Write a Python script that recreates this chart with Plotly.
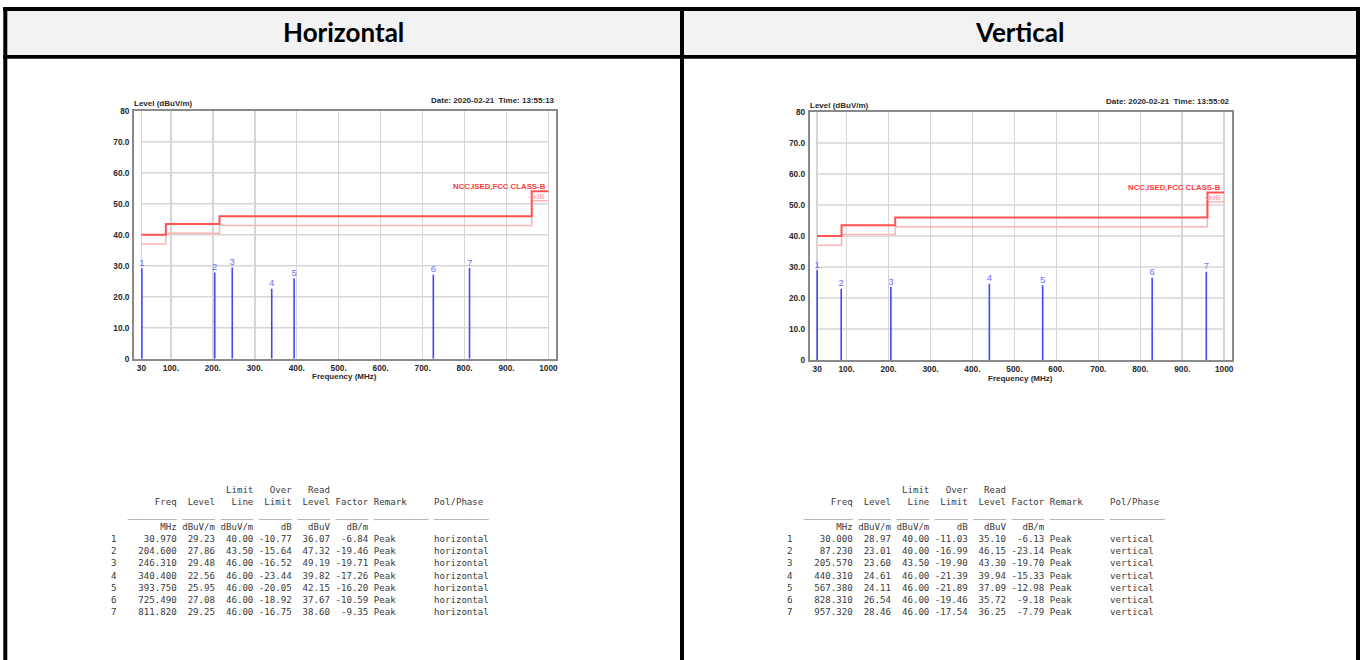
import plotly.graph_objects as go

W, H = 1360, 660

# ---------------- data ----------------
TICK_FREQ = [30, 100, 200, 300, 400, 500, 600, 700, 800, 900, 1000]
TICK_FREQ_TEXT = ["30", "100.", "200.", "300.", "400.", "500.", "600.", "700.", "800.", "900.", "1000"]
TICK_LEVEL = [0, 10, 20, 30, 40, 50, 60, 70, 80]
TICK_LEVEL_TEXT = ["0", "10.0", "20.0", "30.0", "40.0", "50.0", "60.0", "70.0", "80"]

LIMIT_FREQ = [30, 88, 216, 960, 1000]
LIMIT_LEVEL = [40.0, 43.5, 46.0, 54.0, 54.0]
MARGIN_LEVEL = [37.0, 40.5, 43.0, 51.0, 51.0]
LIMIT_NAME = "NCC,ISED,FCC CLASS-B"
MARGIN_NAME = "-3dB"

PANEL_TITLES = ["Horizontal", "Vertical"]
DATES = ["Date: 2020-02-21  Time: 13:55:13", "Date: 2020-02-21  Time: 13:55:02"]

H_INDEX = [1, 2, 3, 4, 5, 6, 7]
H_FREQ = [30.970, 204.600, 246.310, 340.400, 393.750, 725.490, 811.820]
H_LEVEL = [29.23, 27.86, 29.48, 22.56, 25.95, 27.08, 29.25]
H_LIMIT = [40.00, 43.50, 46.00, 46.00, 46.00, 46.00, 46.00]
H_OVER = [-10.77, -15.64, -16.52, -23.44, -20.05, -18.92, -16.75]
H_READ = [36.07, 47.32, 49.19, 39.82, 42.15, 37.67, 38.60]
H_FACTOR = [-6.84, -19.46, -19.71, -17.26, -16.20, -10.59, -9.35]
H_REMARK = ["Peak"] * 7
H_POL = ["horizontal"] * 7

V_INDEX = [1, 2, 3, 4, 5, 6, 7]
V_FREQ = [30.000, 87.230, 205.570, 440.310, 567.380, 828.310, 957.320]
V_LEVEL = [28.97, 23.01, 23.60, 24.61, 24.11, 26.54, 28.46]
V_LIMIT = [40.00, 40.00, 43.50, 46.00, 46.00, 46.00, 46.00]
V_OVER = [-11.03, -16.99, -19.90, -21.39, -21.89, -19.46, -17.54]
V_READ = [35.10, 46.15, 43.30, 39.94, 37.09, 35.72, 36.25]
V_FACTOR = [-6.13, -23.14, -19.70, -15.33, -12.98, -9.18, -7.79]
V_REMARK = ["Peak"] * 7
V_POL = ["vertical"] * 7

# ---------------- helpers ----------------
def px(x):
    return x / W


def py(y):
    return 1 - y / H


SANS = "Liberation Sans"
MONO = "DejaVu Sans Mono"
RED = "#ff5252"
PINK = "#ffb3b3"
BLUE = "#4545ff"
BLUE_TXT = "#6e6eff"
GRID = "#d6d6d6"
FRAME = "#8a8a8a"
TXT = "#2a2a2a"

fig = go.Figure()
annotations = []
shapes = []

panels = [
    dict(dx=0.0, dy=0.0, idx=H_INDEX, freq=H_FREQ, level=H_LEVEL, limit=H_LIMIT, over=H_OVER,
         read=H_READ, factor=H_FACTOR, remark=H_REMARK, pol=H_POL),
    dict(dx=676.7, dy=1.3, idx=V_INDEX, freq=V_FREQ, level=V_LEVEL, limit=V_LIMIT, over=V_OVER,
         read=V_READ, factor=V_FACTOR, remark=V_REMARK, pol=V_POL),
]

PLOT_L, PLOT_R, PLOT_T, PLOT_B = 134.3, 556.7, 107.3, 359.3


def ann(text, x, y, xanchor, size=8, color=TXT, weight="bold", family=SANS):
    annotations.append(dict(text=text, x=px(x), y=py(y), xref="paper", yref="paper", xanchor=xanchor,
                            yanchor="middle", showarrow=False, borderpad=0,
                            font=dict(family=family, size=size, color=color, weight=weight)))


for p_i, p in enumerate(panels):
    dx, dy = p["dx"], p["dy"]
    sfx = "" if p_i == 0 else str(p_i + 1)
    xa, ya = "x" + sfx, "y" + sfx

    # limit lines
    fig.add_trace(go.Scatter(x=LIMIT_FREQ, y=MARGIN_LEVEL, mode="lines", line=dict(color=PINK, width=1.5, shape="hv"),
                             xaxis=xa, yaxis=ya, hoverinfo="skip", showlegend=False))
    fig.add_trace(go.Scatter(x=LIMIT_FREQ, y=LIMIT_LEVEL, mode="lines", line=dict(color=RED, width=2, shape="hv"),
                             xaxis=xa, yaxis=ya, hoverinfo="skip", showlegend=False))
    # marker lines
    mx, my = [], []
    for f, l in zip(p["freq"], p["level"]):
        mx += [f, f, None]
        my += [0, l, None]
    fig.add_trace(go.Scatter(x=mx, y=my, mode="lines", line=dict(color=BLUE, width=1.6),
                             xaxis=xa, yaxis=ya, hoverinfo="skip", showlegend=False))
    fig.add_trace(go.Scatter(x=p["freq"], y=p["level"], mode="text", text=[str(i) for i in p["idx"]],
                             textposition="top center", textfont=dict(family=SANS, size=9.5, color=BLUE_TXT),
                             xaxis=xa, yaxis=ya, hoverinfo="skip", showlegend=False, cliponaxis=False))

    # horizontal gridlines (between first and last frequency tick)
    for lv in TICK_LEVEL[1:-1]:
        shapes.append(dict(type="line", xref=xa, yref=ya, x0=TICK_FREQ[0], x1=TICK_FREQ[-1], y0=lv, y1=lv,
                           line=dict(color=GRID, width=1.5), layer="below"))

    axis_common = dict(showline=True, linecolor=FRAME, linewidth=2, mirror=True, zeroline=False, ticks="",
                       fixedrange=True, tickfont=dict(family=SANS, size=8.3, color=TXT, weight="bold"))
    fig.update_layout(**{
        "xaxis" + sfx: dict(domain=[px(PLOT_L + dx), px(PLOT_R + dx)], range=[12.4, 1017.6], anchor=ya,
                            tickmode="array", tickvals=TICK_FREQ, ticktext=TICK_FREQ_TEXT,
                            showgrid=True, gridcolor=GRID, gridwidth=1.5, ticklabelstandoff=0, **axis_common),
        "yaxis" + sfx: dict(domain=[py(PLOT_B + dy), py(PLOT_T + dy)], range=[0, 80], anchor=xa,
                            tickmode="array", tickvals=TICK_LEVEL, ticktext=TICK_LEVEL_TEXT,
                            showgrid=False, ticklabelstandoff=1, **axis_common),
    })

    ann("Level (dBuV/m)", 133.5 + dx, 100.5 + dy, "left")
    ann(DATES[p_i], 556.5 + dx, 97.0 + dy, "right")
    ann("Frequency (MHz)", 345.5 + dx, 377.5 + dy, "center")
    ann(LIMIT_NAME, 547.5 + dx, 184.0 + dy, "right", size=7.8, color="#ff3b3b")
    ann(MARGIN_NAME, 547.0 + dx, 194.3 + dy, "right", size=8, color="#ff9c9c", weight="normal")

    # ---- text table ----
    lines = []
    lines.append(f"{'':1}{'':11}{'':7}{'Limit':>7}{'Over':>7}{'Read':>7}")
    lines.append(f"{'':1}{'Freq':>11}{'Level':>7}{'Line':>7}{'Limit':>7}{'Level':>7}{'Factor':>7} {'Remark':<10} {'Pol/Phase'}")
    lines.append("   " + "_" * 9 + " " + "_" * 6 + " " + "_" * 6 + " " + "_" * 6 + " " + "_" * 6 + " " + "_" * 6
                 + " " + "_" * 10 + " " + "_" * 10)
    lines.append(f"{'':1}{'MHz':>11}{'dBuV/m':>7}{'dBuV/m':>7}{'dB':>7}{'dBuV':>7}{'dB/m':>7}")
    for i in range(len(p["idx"])):
        lines.append(f"{p['idx'][i]:<1}{p['freq'][i]:>11.3f}{p['level'][i]:>7.2f}{p['limit'][i]:>7.2f}"
                     f"{p['over'][i]:>7.2f}{p['read'][i]:>7.2f}{p['factor'][i]:>7.2f} {p['remark'][i]:<10} {p['pol'][i]}")
    for k, ln in enumerate(lines):
        annotations.append(dict(text=ln.replace(" ", "\u00a0"), x=px(110.5 + dx), y=py(492.6 + 12.4 * k),
                                xref="paper", yref="paper", xanchor="left", yanchor="middle", showarrow=False,
                                borderpad=0,
                                font=dict(family=MONO, size=9.1, color="#3a3a3a")))


# ---------------- outer table frame ----------------
def rect(x0, y0, x1, y1, color):
    shapes.append(dict(type="rect", xref="paper", yref="paper", x0=px(x0), x1=px(x1), y0=py(y1), y1=py(y0),
                       line=dict(width=0), fillcolor=color, layer="above"))


rect(7.3, 6, 681, 50.7, "#f2f2f2")
rect(685, 6, 1358, 50.7, "#f2f2f2")
rect(3.3, 2, 1362, 6, "#000000")
rect(3.3, 50.7, 1362, 54.7, "#000000")
rect(3.3, 2, 7.3, 665, "#000000")
rect(681, 2, 685, 665, "#000000")
rect(1358, 2, 1362, 665, "#000000")

for t_i, title in enumerate(PANEL_TITLES):
    cx = (7.3 + 681) / 2 if t_i == 0 else (685 + 1358) / 2
    annotations.append(dict(text=title, x=px(cx), y=py(27.5), xref="paper", yref="paper", xanchor="center",
                            yanchor="middle", showarrow=False, borderpad=0,
                            font=dict(family="Lato", size=26, color="#000000", weight="bold")))

fig.update_layout(width=W, height=H, margin=dict(l=0, r=0, t=0, b=0), paper_bgcolor="white",
                  plot_bgcolor="white", showlegend=False, annotations=annotations, shapes=shapes)

fig.write_html("out.html", config={"displayModeBar": False, "staticPlot": True},
               post_script="document.body.style.margin='0';document.body.style.overflow='hidden';")
